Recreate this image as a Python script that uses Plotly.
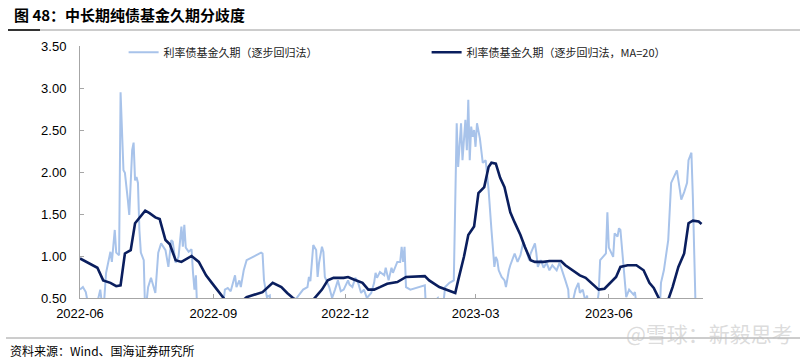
import pandas as pd
import plotly.graph_objects as go

start_date = "2022-06-01"

# Light series: day offset from start_date, value (values below 0.5 fall off the axis)
light_day = [0, 2, 4, 7, 10, 14, 16, 18, 21, 22, 24, 25, 27, 28, 30, 31, 33, 34, 36, 37, 38, 39, 40, 41, 42, 44, 45,
             47, 49, 52, 54, 56, 59, 61, 63, 64, 66, 68, 70, 71, 72, 73, 75, 77, 78, 79, 80, 81, 90, 98,
             100, 102, 104, 107, 108, 110, 111, 113, 115, 118, 125, 126, 127, 129, 131, 132, 142,
             150, 152, 154, 157, 158, 159, 161, 163, 164, 165, 167, 168, 169, 172, 174, 176, 178, 180,
             182, 185, 186, 188, 190, 192, 194, 196, 198, 201, 203, 204, 205, 207, 210, 211, 213, 215,
             216, 219, 221, 222, 223, 224, 225, 228, 232, 238, 239, 244, 247, 250, 252, 255, 258,
             260, 261, 263, 264, 266, 267, 268, 269, 270, 271, 272, 273, 274, 276, 278, 280, 282, 284,
             286, 287, 288, 289, 291, 293, 294, 296, 297, 300, 302, 304, 306, 308, 310, 311, 314, 315,
             316, 318, 320, 322, 324, 326, 329, 331, 333, 335, 337, 338, 340, 342, 344, 345, 347, 349,
             350, 351, 356, 358, 359, 361, 363, 364, 365, 368, 369, 371, 372, 373, 375, 376, 377, 379,
             382, 383, 385, 400, 401, 403, 406, 408, 410, 412, 414, 415, 417, 419, 420, 422, 423, 425]
light_val = [0.60, 0.63, 0.57, 0.30, 0.30, 0.60, 0.30, 0.80, 1.05, 0.93, 1.31, 1.04, 1.01, 2.95, 2.02, 1.99, 1.67, 1.49,
             2.26, 2.35, 1.90, 1.94, 1.87, 1.31, 1.04, 0.95, 0.30,
             0.63, 0.74, 0.56, 1.04, 1.15, 1.07, 0.87, 1.19, 1.17, 0.92, 0.99, 1.35, 1.11, 1.37, 1.10, 1.05,
             1.08, 0.80, 0.60, 0.77, 0.30, 0.30, 0.30,
             0.60, 0.62, 0.58, 0.77, 0.63, 0.71, 0.63, 0.83, 0.95, 0.98, 1.04, 1.03, 0.71, 0.51, 0.53, 0.30, 0.30,
             0.51, 0.56, 0.60, 0.63, 0.75, 0.70, 1.13, 1.07, 0.75, 0.92, 1.11, 1.05, 0.75, 0.63, 0.50, 0.60,
             0.71, 0.58, 0.60, 0.71, 0.66, 0.63, 0.74, 0.68, 0.56, 0.60, 0.50, 0.56, 0.68, 0.80, 0.74, 0.81,
             0.77, 0.86, 0.71, 0.86, 0.80, 0.93, 0.93, 1.11, 0.93, 1.11, 0.63, 0.60, 0.62, 0.65, 0.30, 0.45,
             0.50, 0.30, 0.63, 0.68, 0.71,
             2.58, 2.06, 2.58, 2.14, 2.62, 2.26, 2.86, 2.14, 2.54, 2.42, 2.50, 2.30, 2.58, 2.40, 2.11, 2.14,
             1.79, 1.31, 0.87, 0.99, 0.95, 0.83, 0.75, 0.71, 0.63, 0.83, 0.89, 1.03, 0.93, 1.01, 1.17, 1.07,
             0.95, 1.03, 1.15, 1.03, 0.87, 0.95, 0.86, 0.92, 0.83, 0.89, 0.83, 0.92, 0.80, 0.71, 0.60, 0.30,
             0.45, 0.60, 0.68, 0.56, 0.60, 0.45, 0.53, 0.30, 0.30, 0.56, 0.95, 0.99, 1.03, 1.52, 1.10, 0.99,
             1.27, 1.23, 1.33, 1.31, 0.95, 0.68, 0.51, 0.60, 0.54, 0.57, 0.30, 0.30, 0.68, 0.83, 1.19, 1.87,
             1.94, 2.02, 1.79, 1.67, 1.76, 1.87, 2.14, 2.23, 1.70, 0.30]

# Dark series (MA=20): day offset, value
ma_day = [0, 12, 16, 21, 25, 28, 31, 35, 38, 41, 45, 48, 52, 55, 59, 62, 66, 70, 73, 77, 82, 87, 91, 96, 100,
          106, 113, 115, 122, 126, 133, 139, 143, 147, 152, 161, 164, 167, 171, 175, 182, 185, 189, 195,
          199, 203, 207, 212, 219, 225, 238, 241, 248, 255, 259, 261, 265, 268, 272, 275, 279, 282, 284,
          287, 290, 293, 297, 300, 304, 307, 311, 314, 320, 324, 332, 335, 340, 345, 349, 354, 358, 362,
          367, 370, 373, 378, 384, 389, 393, 396, 400, 403, 406, 409, 413, 417, 420, 423, 427, 429]
ma_val = [0.97, 0.86, 0.71, 0.68, 0.64, 0.65, 1.03, 1.07, 1.39, 1.45, 1.54, 1.51, 1.46, 1.44, 1.19, 1.14, 0.95,
          0.93, 0.96, 1.00, 0.93, 0.77, 0.68, 0.56, 0.48, 0.42, 0.48, 0.51, 0.55, 0.57, 0.68, 0.63, 0.56,
          0.50, 0.45, 0.48, 0.54, 0.60, 0.71, 0.74, 0.74, 0.75, 0.72, 0.68, 0.60, 0.60, 0.63, 0.67, 0.69,
          0.75, 0.76, 0.71, 0.63, 0.58, 0.56, 0.71, 0.99, 1.25, 1.35, 1.75, 1.82, 2.06, 2.11, 2.10, 1.93,
          1.82, 1.52, 1.40, 1.25, 1.11, 0.95, 0.93, 0.93, 0.94, 0.94, 0.89, 0.83, 0.77, 0.74, 0.66, 0.60,
          0.61, 0.70, 0.75, 0.87, 0.89, 0.89, 0.83, 0.68, 0.62, 0.48, 0.42, 0.48, 0.63, 0.87, 1.03, 1.39,
          1.42, 1.41, 1.38]

tick_dates = ["2022-06-01", "2022-09-01", "2022-12-01", "2023-03-01", "2023-06-01"]
tick_labels = ["2022-06", "2022-09", "2022-12", "2023-03", "2023-06"]
y_ticks = [0.5, 1.0, 1.5, 2.0, 2.5, 3.0, 3.5]

name_light = "利率债基金久期（逐步回归法）"
name_ma = "利率债基金久期（逐步回归法，MA=20）"

base = pd.Timestamp(start_date)
light_x = base + pd.to_timedelta(light_day, unit="D")
ma_x = base + pd.to_timedelta(ma_day, unit="D")

fig = go.Figure()
fig.add_trace(go.Scatter(x=light_x, y=light_val, mode="lines", name=name_light,
                         line=dict(color="#A8C3EA", width=2)))
fig.add_trace(go.Scatter(x=ma_x, y=ma_val, mode="lines", name=name_ma,
                         line=dict(color="#0A1E5E", width=2.6)))

cjk = "Noto Sans CJK SC"
fig.update_layout(
    width=800, height=358,
    margin=dict(l=80, r=97, t=46, b=60),
    paper_bgcolor="white", plot_bgcolor="white",
    font=dict(family="Liberation Sans, Arial", size=13, color="#000000"),
    showlegend=True,
    legend=dict(orientation="h", x=0.07, xanchor="left", y=0.975, yanchor="middle",
                font=dict(family=cjk, size=11, color="#222222"),
                entrywidth=258, entrywidthmode="pixels", itemwidth=30,
                bgcolor="rgba(0,0,0,0)", tracegroupgap=0),
    xaxis=dict(range=["2022-06-01", "2023-08-05"], tickvals=tick_dates, ticktext=tick_labels,
               showgrid=False, zeroline=False, showline=True, linecolor="#A6A6A6", linewidth=1,
               ticks="inside", ticklen=4, tickcolor="#A6A6A6", ticklabelstandoff=3,
               tickfont=dict(family="Liberation Sans, Arial", size=13, color="#000000")),
    yaxis=dict(range=[0.5, 3.5], tickvals=y_ticks, tickformat=".2f",
               showgrid=False, zeroline=False, showline=True, linecolor="#A6A6A6", linewidth=1,
               ticks="inside", ticklen=4, tickcolor="#A6A6A6", ticklabelstandoff=10,
               tickfont=dict(family="Liberation Sans, Arial", size=13, color="#000000")),
)

# Title
fig.add_annotation(text="<b>图 48：中长期纯债基金久期分歧度</b>", xref="paper", yref="paper",
                   x=-80/623, y=1 + (46 - 14)/252, xanchor="left", yanchor="middle",
                   xshift=12, showarrow=False, font=dict(family=cjk, size=15, color="#000000"))
# Source
fig.add_annotation(text="资料来源：Wind、国海证券研究所", xref="paper", yref="paper",
                   x=-80/623, y=-(350 - 298)/252, xanchor="left", yanchor="middle",
                   xshift=8, showarrow=False, font=dict(family=cjk, size=12, color="#000000"))
# Watermark
fig.add_annotation(text="@雪球：新毅思考", xref="paper", yref="paper",
                   x=1 + 92/623, y=-(333 - 298)/252, xanchor="right", yanchor="middle",
                   showarrow=False, font=dict(family=cjk, size=21, color="rgba(190,190,190,0.55)"))

# Header and footer rules
fig.add_shape(type="line", xref="paper", yref="paper", x0=-72/623, x1=1 + 97/623,
              y0=1 + (46 - 30)/252, y1=1 + (46 - 30)/252, line=dict(color="#9A9A9A", width=1))
fig.add_shape(type="line", xref="paper", yref="paper", x0=-72/623, x1=-40/623,
              y0=1 + (46 - 30)/252, y1=1 + (46 - 30)/252, line=dict(color="#333333", width=2))
fig.add_shape(type="line", xref="paper", yref="paper", x0=-74/623, x1=1 + 97/623,
              y0=-(338 - 298)/252, y1=-(338 - 298)/252, line=dict(color="#9A9A9A", width=1))

fig.write_html("out.html", config={"displayModeBar": False},
               post_script="document.body.style.margin='0';document.body.style.overflow='hidden';")
